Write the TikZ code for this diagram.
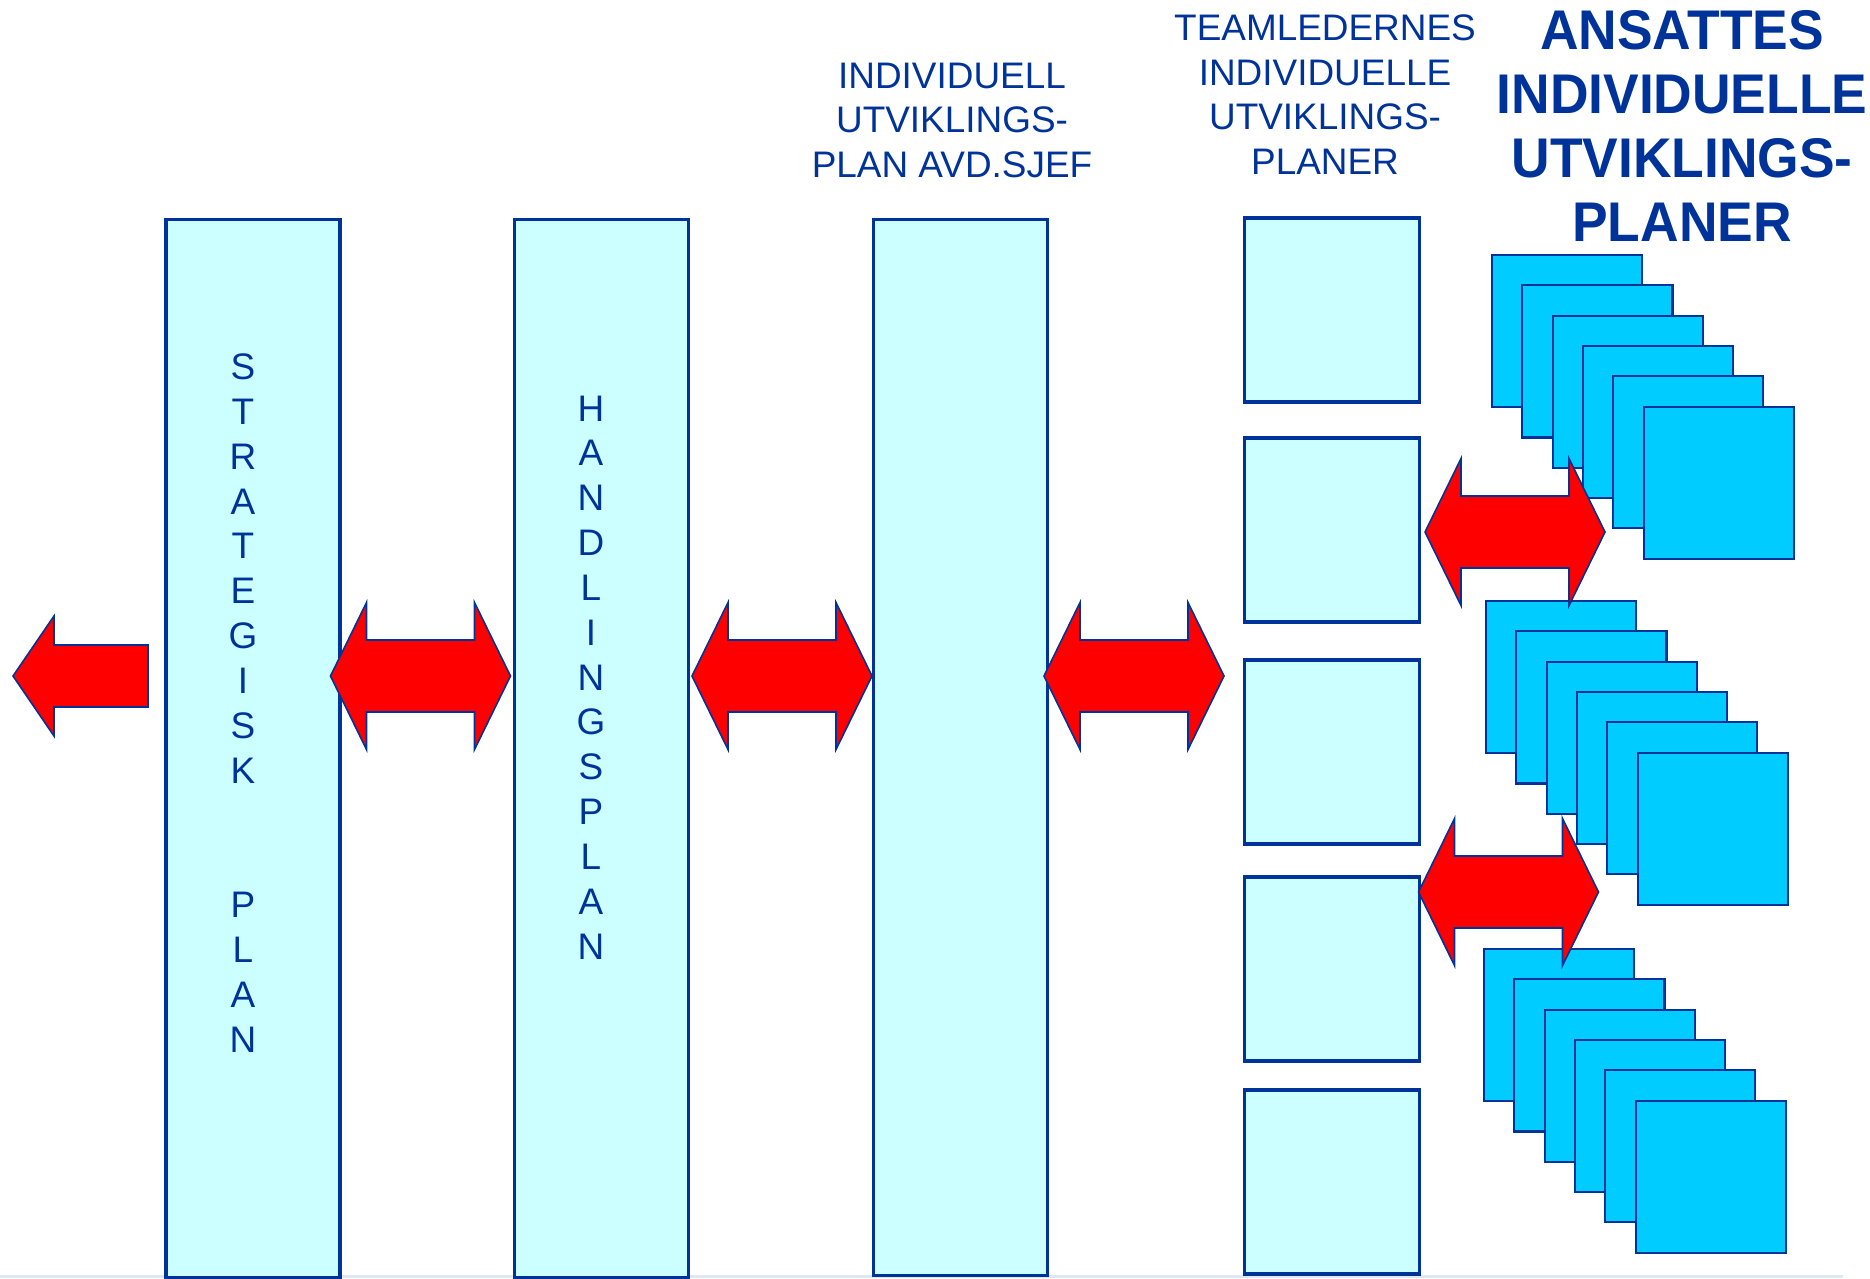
\documentclass[tikz,border=0pt]{standalone}
\usepackage{fontspec}
\setmainfont{Liberation Sans}
\newfontfamily\headfont[FakeStretch=0.955]{Liberation Sans}
\usetikzlibrary{positioning}
\definecolor{planblue}{RGB}{0,51,153}
\definecolor{planfill}{RGB}{204,255,255}
\definecolor{staffblue}{RGB}{0,204,255}
\definecolor{slideline}{RGB}{221,231,245}
\tikzset{
  plan column/.style={
    draw=planblue, line width=1pt, fill=planfill,   % tall plan boxes
    minimum width=1.74cm, minimum height=10.57cm, inner sep=0pt
  },
  team box/.style={
    draw=planblue, line width=1pt, fill=planfill,
    minimum width=1.75cm, minimum height=1.84cm, inner sep=0pt
  },
  staff box/.style={
    draw=planblue, line width=0.6pt, fill=staffblue, anchor=north west,
    minimum width=1.5cm, minimum height=1.52cm, inner sep=0pt
  },
  red arrow/.style={draw=planblue, line width=0.45pt, fill=red},
  caption/.style={text=planblue, align=center, inner sep=0pt, anchor=north,
    font=\fontsize{10.5}{12.7}\selectfont},
  letters/.style={text=planblue, align=center, inner sep=0pt, anchor=north,
    font=\fontsize{10.5}{12.75}\selectfont},
  heading/.style={text=planblue, align=center, inner sep=0pt, anchor=north,
    font=\headfont\bfseries\fontsize{15.9}{18.2}\selectfont}
}
% block arrow with a head at each end, centred on a named point
\newcommand{\twoway}[2]{%
  \coordinate (#1) at #2;
  \draw[red arrow] (#1) ++(-90,0) -- ++(36,-73.5) -- ++(0,37.5) -- ++(108,0)
    -- ++(0,-37.5) -- ++(36,73.5) -- ++(-36,73.5) -- ++(0,-37.5)
    -- ++(-108,0) -- ++(0,37.5) -- cycle;
}

\begin{document}
\begin{tikzpicture}[x=0.01cm, y=-0.01cm]
    \useasboundingbox (0,0) rectangle (1870,1278);
    % Slide edge
    \fill[slideline] (0,1275) rectangle (1843,1278);

    % Plan columns
    \node[plan column] (strat) at (253,748.5) {};
    \node[plan column] (handl) at (601.5,748.5) {};
    \node[plan column, minimum height=10.55cm] (avd) at (960.5,747.5) {};
    \node[letters] (stratlbl) at (243,353) {S\\T\\R\\A\\T\\E\\G\\I\\S\\K\\[25.5pt]P\\L\\A\\N};
    \node[letters] (handllbl) at (591,395) {H\\A\\N\\D\\L\\I\\N\\G\\S\\P\\L\\A\\N};

    % Team leader boxes
    \foreach \yy [count=\i] in {310,530,752,969,1182}
        \node[team box] (team\i) at (1332,\yy) {};

    % Employee plans, six per stack
    \foreach \gx/\gy [count=\g] in {1491/254, 1485/600, 1483/948}
        \foreach \k in {0,...,5}
            \node[staff box] (staff\g-\k) at ({\gx+30.3*\k},{\gy+30.3*\k}) {};

    % Captions
    \node[caption] (avdlbl) at (952,62) {INDIVIDUELL\\UTVIKLINGS-\\PLAN AVD.SJEF};
    \node[caption] (teamlbl) at (1325,14) {TEAMLEDERNES\\INDIVIDUELLE\\UTVIKLINGS-\\PLANER};
    \node[heading] (stafflbl) at (1682,10) {ANSATTES\\INDIVIDUELLE\\UTVIKLINGS-\\PLANER};

    % Arrows
    \coordinate (out) at (13,676);
    \draw[red arrow] (out) -- ++(41,-60) -- ++(0,29) -- ++(94,0) -- ++(0,62)
        -- ++(-94,0) -- ++(0,29) -- cycle;
    \twoway{a1}{(420.5,676)}
    \twoway{a2}{(782,676)}
    \twoway{a3}{(1134,676)}
    \twoway{a4}{(1515,532)}
    \twoway{a5}{(1508.5,892)}
\end{tikzpicture}
\end{document}
